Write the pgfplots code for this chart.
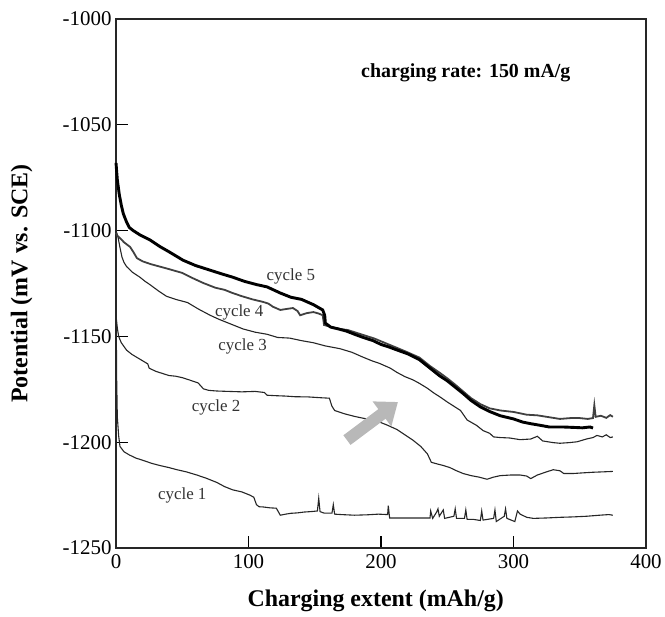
\documentclass[border=0pt]{standalone}
\usepackage{fontspec}
\setmainfont{Liberation Serif}
\usepackage{pgfplots}
\pgfplotsset{compat=1.18}
\usetikzlibrary{arrows.meta}
\begin{document}
\begin{tikzpicture}[x=1bp,y=1bp]
\begin{axis}[
  scale only axis, width=530bp, height=529bp,
  xmin=0, xmax=400, ymin=-1250, ymax=-1000,
  xtick={0,100,200,300,400}, xticklabels={0,100,200,300,400},
  ytick={-1250,-1200,-1150,-1100,-1050,-1000},
  yticklabels={-1250,-1200,-1150,-1100,-1050,-1000},
  xtick pos=bottom, ytick pos=left, tick align=inside,
  major tick length=12bp,
  tick style={line width=1.2bp, black},
  axis line style={line width=1.2bp, black!85},
  ticklabel style={font=\fontsize{21}{21}\selectfont},
  xticklabel style={yshift=-3bp},
  yticklabel style={xshift=-1bp},
  xlabel={\textbf{Charging extent (mAh/g)}},
  ylabel={\textbf{Potential (mV vs. SCE)}},
  label style={font=\fontsize{24}{24}\selectfont},
  xlabel style={at={(axis description cs:0.49,0)}, anchor=north, yshift=-38bp},
  ylabel style={at={(axis description cs:0,0.5)}, anchor=south, yshift=80bp},
  clip=false,
]
% cycle 1
\addplot[black!85, line width=1.1bp] coordinates {
(0,-1128) (0.5,-1170) (1,-1188) (2,-1197) (3,-1202) (6,-1204.5) (10,-1206) (15,-1207.5)
(20,-1208.5) (27,-1210) (33,-1211) (40,-1212) (46,-1213) (53,-1214) (61,-1215.5) (68,-1217)
(76,-1219) (82,-1221) (88,-1222.5) (95,-1223.5) (101,-1225) (104,-1226) (106,-1229.5)
(108,-1230.5) (111,-1230.6) (116,-1231) (121,-1231.2) (124,-1234.5) (128,-1234) (132,-1233.6)
(137,-1233.4) (142,-1233) (147,-1232.8) (152,-1232.5) (153,-1226.5) (154,-1232.8) (157,-1233.5)
(163,-1233.5) (164,-1229.5) (165,-1234) (170,-1234.2) (180,-1234.5) (190,-1234.3) (198,-1234)
(205,-1234.2) (205.5,-1230) (206.5,-1235.8) (220,-1235.8) (237,-1235.8) (237.5,-1232.5) (239,-1236)
(242,-1233) (243,-1231.5) (244,-1235) (247,-1232) (248,-1236) (255,-1235) (256,-1231.5) (257,-1236)
(263,-1236) (264,-1232) (265,-1236.5) (270,-1236.5) (275,-1237) (276,-1232.5) (277,-1236.8) (285,-1236)
(286,-1232) (287,-1237.5) (293,-1235) (294,-1231.5) (295,-1236) (301,-1237.5) (303,-1232.5)
(305,-1234) (310,-1235.5) (315,-1236) (325,-1235.8) (335,-1235.5) (345,-1235.3) (355,-1235)
(365,-1234.5) (372,-1234.2) (375,-1234.5)
};
% cycle 2
\addplot[black!85, line width=1.1bp] coordinates {
(0,-1140) (0.5,-1143) (1,-1146) (2,-1150) (4,-1153) (8,-1156.5) (12,-1158.5) (16,-1160)
(20,-1161.5) (24,-1163) (25,-1165) (30,-1166.5) (35,-1167.5) (40,-1168.5) (45,-1168.8)
(50,-1169.5) (55,-1170.5) (62,-1172) (66,-1174.8) (70,-1175.5) (76,-1175.8) (85,-1176)
(95,-1176.2) (105,-1176) (112,-1176.5) (114,-1177.8) (120,-1178) (128,-1178.2) (135,-1178.5)
(145,-1178.6) (155,-1179) (161,-1179.2) (163,-1183) (165,-1185) (172,-1186.5) (180,-1187.8)
(186,-1188.6) (193,-1189.5) (199,-1190.5) (205,-1192) (212,-1194) (218,-1196.5) (224,-1199)
(230,-1202) (235,-1205.5) (238,-1209.5) (242,-1210.2) (247,-1211) (252,-1212) (257,-1213.5)
(262,-1214.8) (268,-1215.8) (274,-1216.5) (280,-1217.5) (285,-1216.5) (290,-1215.8)
(298,-1215.5) (305,-1215.5) (310,-1216) (313,-1217.2) (318,-1215.5) (325,-1214) (330,-1213)
(335,-1213.5) (338,-1214.8) (345,-1214.8) (352,-1214.5) (360,-1214.2) (368,-1214) (375,-1213.8)
};
% cycle 3
\addplot[black!85, line width=1.1bp] coordinates {
(0,-1100) (1.5,-1103) (3,-1108) (4.5,-1112.5) (6,-1115) (8,-1117) (12,-1119.5) (18,-1122)
(22,-1124) (26,-1125.7) (32,-1128.5) (38,-1131) (45,-1132.5) (54,-1134) (62,-1137) (71,-1140)
(78,-1142) (86,-1144) (96,-1146.5) (105,-1148) (114,-1149) (122,-1150.5) (131,-1150.8)
(140,-1152) (149,-1153) (158,-1154.5) (169,-1155.8) (178,-1157.5) (186,-1159.7) (193,-1161.5)
(199,-1162.8) (207,-1165) (212,-1167) (218,-1169) (224,-1170.5) (229,-1172.2) (235,-1174.5)
(240,-1176.8) (245,-1178.8) (250,-1181) (255,-1183) (260,-1185) (265,-1189.5) (272,-1192)
(277,-1194.5) (282,-1195.8) (285,-1197.5) (290,-1197.8) (297,-1198) (305,-1198.8) (313,-1198.5)
(318,-1197.2) (322,-1199.4) (330,-1200.2) (335,-1200.5) (342,-1200.2) (348,-1199.8)
(355,-1198.5) (360,-1197.8) (363,-1196.8) (367,-1197.5) (370,-1196.5) (373,-1197.8) (375,-1197.5)
};
% cycle 4
\addplot[black!75, line width=1.8bp] coordinates {
(0,-1101) (1,-1102.5) (3,-1103.5) (6,-1105.5) (10.6,-1107.7) (13,-1110) (15.8,-1113) (20,-1114.5)
(26,-1115.8) (33,-1117) (40,-1118.2) (50,-1120) (58,-1122.5) (66,-1124.8) (75,-1127) (82,-1128)
(88,-1129.5) (95,-1131) (103,-1132.5) (111,-1133.7) (115,-1134.5) (118.5,-1136) (124,-1137.5)
(129,-1137) (133.6,-1136.6) (137,-1138) (139,-1140) (144,-1139) (149,-1138.5) (153,-1139.2)
(156,-1140) (157,-1144.6) (162,-1145.5) (169,-1146.5) (175,-1147) (185,-1149) (195,-1151)
(205,-1153.6) (212,-1155.4) (220,-1157.5) (229,-1160) (237,-1164) (245,-1167.5) (250,-1169.8)
(256,-1172.8) (262,-1176) (268,-1179.2) (275,-1182) (282,-1184) (290,-1185) (300,-1185.7)
(310,-1187) (318,-1187.3) (325,-1188) (335,-1189) (343,-1188.6) (350,-1188.6) (356,-1189)
(360,-1188.6) (361,-1182.5) (362,-1188) (366,-1187.5) (370,-1188.5) (373,-1187.2) (375,-1188)
};
% cycle 5
\addplot[black, line width=2.9bp] coordinates {
(0,-1068) (1,-1076) (2.5,-1083) (4,-1088) (5.5,-1092) (8,-1096) (10,-1098.5) (13,-1100)
(18,-1102) (25.6,-1104.4) (33,-1107.5) (40,-1110) (50.6,-1114) (60,-1116.5) (70,-1118.5)
(80,-1120.5) (88,-1122) (97,-1124) (106,-1125.5) (114,-1126.6) (124,-1129.5) (132,-1131.5)
(140,-1132.5) (149,-1135) (156,-1137.5) (157.5,-1140) (158,-1143.7) (162,-1145.6) (168,-1146.5)
(174,-1147.5) (180,-1149) (186.6,-1150.5) (194,-1152) (200,-1153.8) (206,-1155) (212,-1156.4)
(220,-1158.2) (229,-1161) (237,-1165) (244,-1168.5) (250,-1171) (256,-1174) (262,-1177)
(268,-1180.3) (275,-1183.3) (282,-1185.5) (290,-1187.5) (300,-1189) (307,-1190.5)
(312.5,-1191.2) (320,-1192) (327,-1192.8) (337,-1192.8) (345,-1193) (352,-1193.2)
(357.7,-1192.8) (360,-1193.3)
};
% arrow
\draw[line width=12bp, black!28, -{Triangle[width=30bp,length=20bp]}]
  (axis cs:174.3,-1199) -- (axis cs:212.8,-1181);
% labels
\node[font=\fontsize{20}{20}\selectfont\bfseries] at (axis cs:264,-1025.5) {charging rate: 150 mA/g};
\node[font=\fontsize{17}{17}\selectfont, text=black!80] at (axis cs:132,-1121.5) {cycle 5};
\node[font=\fontsize{17}{17}\selectfont, text=black!80] at (axis cs:93,-1138.5) {cycle 4};
\node[font=\fontsize{17}{17}\selectfont, text=black!80] at (axis cs:95.5,-1154.8) {cycle 3};
\node[font=\fontsize{17}{17}\selectfont, text=black!80] at (axis cs:75.5,-1183.8) {cycle 2};
\node[font=\fontsize{17}{17}\selectfont, text=black!80] at (axis cs:50,-1225) {cycle 1};
\end{axis}
\pgfresetboundingbox
\path[use as bounding box] ([xshift=-116bp,yshift=-68bp]current axis.south west) rectangle ([xshift=19bp,yshift=19bp]current axis.north east);
\end{tikzpicture}
\end{document}
